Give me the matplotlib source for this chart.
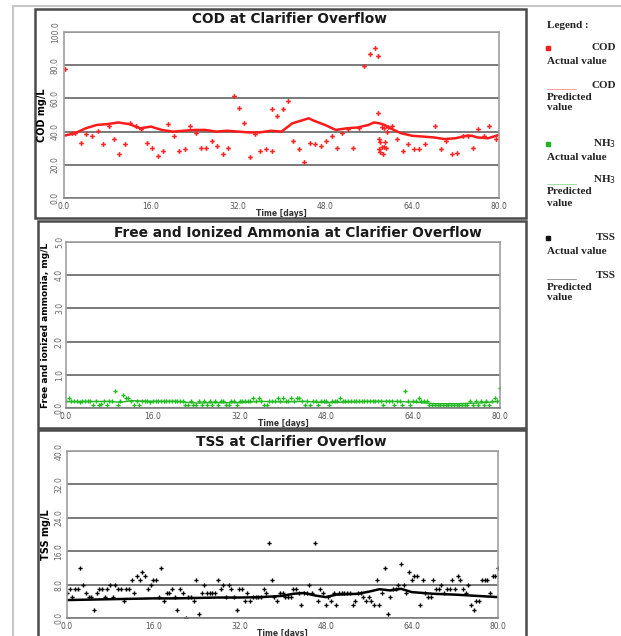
import matplotlib
matplotlib.use("Agg")
import matplotlib.pyplot as plt
from matplotlib.patches import Rectangle
import numpy as np

W, H = 621, 636

# ---- COD ----
cod_days = [0.1, 1.4, 2.0, 3.2, 4.1, 5.2, 6.2, 7.2, 8.2, 9.2,
            10.2, 11.2, 12.2, 13.2, 14.2, 15.2, 16.2, 17.2, 18.2, 19.2,
            20.2, 21.2, 22.2, 23.2, 24.2, 25.2, 26.2, 27.2, 28.2, 29.2,
            30.2, 31.2, 32.1, 33.1, 34.2, 35.2, 36.1, 37.2, 38.2, 38.2,
            39.2, 40.2, 41.2, 42.2, 43.2, 44.2, 45.2, 46.2, 47.2, 48.2,
            49.2, 50.2, 51.2, 52.2, 53.2, 54.2, 55.2, 56.2, 57.2, 57.8,
            57.8, 58.0, 58.0, 58.2, 58.2, 58.4, 58.5, 58.6, 58.8, 58.8,
            59.0, 59.2, 59.4, 59.6, 60.4, 61.3, 62.3, 63.3, 64.3, 65.3,
            66.3, 68.3, 69.3, 70.3, 71.3, 72.3, 73.3, 74.3, 75.3, 76.2,
            77.3, 78.2, 79.4]
cod_actual = [77.6, 39.4, 39.4, 33.4, 38.4, 37.4, 40.4, 32.4, 43.4, 35.4,
              26.4, 32.4, 45.4, 43.4, 41.4, 33.4, 30.4, 25.4, 28.4, 44.4,
              37.4, 28.4, 29.4, 43.4, 39.4, 30.4, 30.4, 34.4, 31.4, 26.4,
              30.4, 61.4, 54.4, 45.4, 24.4, 38.4, 28.4, 29.4, 53.4, 28.4,
              49.4, 53.4, 58.4, 34.4, 29.4, 21.4, 33.4, 32.4, 31.4, 34.4,
              37.4, 30.4, 39.4, 41.4, 30.4, 42.4, 79.6, 86.6, 90.6, 85.6,
              51.4, 35.3, 29.3, 33.9, 27.9, 30.9, 43.0, 26.5, 31.0, 42.0,
              34.0, 30.0, 40.0, 43.0, 43.4, 35.4, 28.4, 32.4, 29.4, 29.4,
              32.4, 43.4, 29.4, 34.4, 26.4, 27.4, 37.4, 37.4, 30.4, 41.4,
              37.4, 43.4, 35.4]
cod_pred_days = [0, 2, 4, 6, 8, 10, 12, 14, 16, 18, 20, 22, 24, 26, 28, 30,
                 32, 34, 36, 38, 40, 42, 44, 45, 46, 48, 50, 52, 54, 56, 57,
                 58, 59, 60, 62, 64, 66, 68, 70, 72, 74, 75, 76, 78, 80]
cod_pred = [37.5, 39.0, 42.0, 44.0, 44.5, 45.5, 44.5, 42.0, 43.0, 41.0,
            40.0, 40.5, 41.0, 41.0, 40.0, 40.5, 40.0, 39.5, 39.5, 40.5,
            40.0, 45.0, 47.0, 48.0, 46.5, 44.0, 41.0, 42.0, 42.5, 44.0,
            45.5, 45.0, 44.0, 42.0, 39.0, 37.5, 37.0, 36.5, 35.5, 36.0,
            37.5, 37.5, 36.5, 36.0, 38.0]

# ---- NH3 (one sample every half day) ----
nh3_actual = [0.2, 0.3, 0.2, 0.2, 0.2, 0.18, 0.2, 0.2, 0.2, 0.2,
              0.1, 0.2, 0.1, 0.12, 0.2, 0.1, 0.2, 0.2, 0.5, 0.1,
              0.2, 0.4, 0.3, 0.3, 0.2, 0.1, 0.2, 0.1, 0.2, 0.2,
              0.2, 0.18, 0.2, 0.2, 0.2, 0.2, 0.2, 0.2, 0.2, 0.2,
              0.2, 0.2, 0.2, 0.2, 0.1, 0.1, 0.2, 0.1, 0.1, 0.2,
              0.1, 0.2, 0.1, 0.2, 0.1, 0.2, 0.1, 0.2, 0.2, 0.1,
              0.1, 0.2, 0.2, 0.1, 0.2, 0.2, 0.2, 0.2, 0.2, 0.3,
              0.2, 0.3, 0.2, 0.1, 0.1, 0.2, 0.2, 0.2, 0.3, 0.2,
              0.3, 0.2, 0.2, 0.3, 0.2, 0.3, 0.3, 0.2, 0.1, 0.2,
              0.1, 0.2, 0.2, 0.1, 0.2, 0.2, 0.2, 0.1, 0.2, 0.2,
              0.2, 0.3, 0.2, 0.2, 0.2, 0.2, 0.2, 0.2, 0.2, 0.2,
              0.2, 0.2, 0.2, 0.2, 0.2, 0.2, 0.2, 0.1, 0.2, 0.2,
              0.2, 0.1, 0.2, 0.2, 0.1, 0.5, 0.2, 0.1, 0.2, 0.2,
              0.3, 0.2, 0.2, 0.2, 0.1, 0.1, 0.1, 0.1, 0.1, 0.1,
              0.1, 0.1, 0.1, 0.1, 0.1, 0.1, 0.1, 0.1, 0.1, 0.2,
              0.1, 0.2, 0.1, 0.2, 0.1, 0.2, 0.1, 0.2, 0.3, 0.2,
              0.6]
nh3_pred_days = [0, 8, 10, 12, 16, 20, 24, 28, 32, 36, 40, 44, 48, 52, 56,
                 60, 64, 68, 72, 76, 80]
nh3_pred = [0.19, 0.2, 0.17, 0.22, 0.2, 0.2, 0.15, 0.16, 0.16, 0.2, 0.18,
            0.2, 0.16, 0.18, 0.2, 0.2, 0.18, 0.13, 0.13, 0.15, 0.2]

# ---- TSS (one sample every half day) ----
tss_actual = [6, 7, 5, 7, 7, 12, 8, 6, 5, 5,
              2, 6, 7, 7, 5, 7, 8, 5, 8, 7,
              7, 4, 7, 7, 9, 6, 10, 9, 11, 10,
              7, 8, 9, 9, 5, 12, 4, 6, 6, 7,
              5, 2, 7, 6, 0, 5, 5, 4, 9, 1,
              6, 8, 6, 6, 6, 6, 9, 7, 8, 5,
              8, 7, 5, 2, 7, 7, 4, 6, 4, 5,
              5, 5, 5, 7, 6, 18, 9, 5, 4, 6,
              6, 5, 5, 5, 7, 7, 6, 3, 6, 6,
              8, 6, 18, 4, 7, 6, 3, 5, 4, 6,
              3, 6, 6, 6, 6, 6, 3, 4, 6, 6,
              5, 4, 5, 4, 3, 9, 3, 6, 12, 1,
              5, 7, 7, 8, 13, 8, 6, 11, 9, 10,
              10, 3, 9, 6, 5, 5, 9, 7, 7, 8,
              6, 7, 7, 9, 7, 10, 9, 7, 6, 8,
              3, 2, 4, 4, 9, 9, 9, 6, 10, 10,
              12]
tss_pred_days = [0, 4, 8, 12, 16, 20, 24, 28, 32, 36, 40, 42, 44, 46, 48,
                 50, 52, 54, 56, 58, 60, 62, 64, 68, 72, 76, 80]
tss_pred = [4.3, 4.4, 4.5, 4.6, 4.7, 4.7, 4.8, 4.9, 4.9, 5.0, 5.3, 5.8, 6.0,
            5.4, 5.0, 5.6, 5.7, 5.8, 6.3, 6.9, 6.6, 7.0, 6.2, 5.8, 5.6, 5.3,
            5.0]

x_ticks = [0, 16, 32, 48, 64, 80]


def fx(x):
    return x / W


def fy(y):
    return 1 - y / H


def add_panel(fig, box, ax_px, title, title_xy, ylabel, ylabel_x, ylabel_size,
              xlabel_y, yticks, ypad):
    # box = (x0, y0, x1, y1) in pixels from the top-left corner
    x0, y0, x1, y1 = box
    fig.patches.append(Rectangle((fx(x0), fy(y1)), fx(x1 - x0), (y1 - y0) / H,
                                 transform=fig.transFigure, fill=False,
                                 edgecolor="#4a4a4a", lw=1.8))
    l, t, r, b = ax_px
    ax = fig.add_axes([fx(l), fy(b), fx(r - l), (b - t) / H])
    ax.set_xlim(0, 80)
    ax.set_ylim(yticks[0], yticks[-1])
    ax.set_xticks(x_ticks)
    ax.set_xticklabels([f"{v:.1f}" for v in x_ticks], fontsize=5.5,
                       color="#555555")
    ax.set_yticks(yticks)
    ax.set_yticklabels([f"{v:.1f}" for v in yticks], fontsize=5.5,
                       color="#666666", rotation=90, va="center")
    ax.tick_params(axis="x", length=0, pad=3)
    ax.tick_params(axis="y", length=0, pad=ypad)
    ax.grid(axis="y", color="#707070", lw=1.3)
    ax.set_axisbelow(True)
    for s in ["left", "right", "top"]:
        ax.spines[s].set_color("#a0a0a0")
        ax.spines[s].set_linewidth(1.2)
    ax.spines["bottom"].set_color("#808080")
    ax.spines["bottom"].set_linewidth(1.2)
    fig.text(fx(title_xy[0]), fy(title_xy[1]), title, ha="center",
             va="center", fontsize=9.9, fontweight="bold",
             family="DejaVu Sans", color="#1a1a1a")
    fig.text(fx(ylabel_x), fy((t + b) / 2), ylabel, rotation=90, ha="center",
             va="center", fontsize=ylabel_size, fontweight="bold",
             family="Liberation Sans Narrow")
    fig.text(fx((l + r) / 2), fy(xlabel_y), "Time [days]", ha="center",
             va="center", fontsize=5.5, fontweight="bold", color="#333333")
    return ax


fig = plt.figure(figsize=(W / 100, H / 100), dpi=100)
fig.patch.set_facecolor("white")

# page edges
fig.add_artist(plt.Line2D([fx(13), fx(13)], [fy(7), 0], transform=fig.transFigure,
                          color="#c8c8c8", lw=1.5))
fig.add_artist(plt.Line2D([fx(13), 1], [fy(6), fy(6)], transform=fig.transFigure,
                          color="#c8c8c8", lw=1.5))

ax1 = add_panel(fig, (35, 9, 526, 218), (64, 32, 499, 198),
                "COD at Clarifier Overflow", (290, 19), "COD mg/L", 42, 7,
                213, [0, 20, 40, 60, 80, 100], 3)
ax1.plot(cod_pred_days, cod_pred, color="#ff1a1a", lw=1.8)
ax1.plot(cod_days, cod_actual, ls="none", marker="P", ms=3.4,
         color="#ff2020", mew=0)

ax2 = add_panel(fig, (38, 221, 526, 428), (66, 242, 500, 408),
                "Free and Ionized Ammonia at Clarifier Overflow", (298, 233),
                "Free and ionized ammonia, mg/L", 46, 6.5, 423,
                [0, 1, 2, 3, 4, 5], 1.5)
nh3_days = np.linspace(0, 80, len(nh3_actual))
ax2.plot(nh3_pred_days, nh3_pred, color="#22b422", lw=1.0)
ax2.plot(nh3_days, nh3_actual, ls="none", marker="P", ms=3.0,
         color="#22bb22", mew=0)

ax3 = add_panel(fig, (38, 430, 526, 640), (67, 451, 498, 618),
                "TSS at Clarifier Overflow", (291, 442), "TSS mg/L", 46, 7,
                633, [0, 8, 16, 24, 32, 40], 2.5)
tss_days = np.linspace(0, 80, len(tss_actual))
ax3.plot(tss_pred_days, tss_pred, color="black", lw=1.8)
ax3.plot(tss_days, tss_actual, ls="none", marker="P", ms=3.0,
         color="black", mew=0)

# legend column on the right
serif = dict(family="Liberation Serif", fontweight="bold", fontsize=8,
             color="#222222", va="center")
fig.text(fx(547), fy(25), "Legend :", ha="left", **serif)
entries = [
    ("#ff1a1a", "COD", 48, 87),
    ("#22b422", "NH$_3$", 144, 182),
    ("#111111", "TSS", 238, 277),
]
for color, name, y_act, y_pred in entries:
    fig.add_artist(plt.Line2D([fx(548)], [fy(y_act)], transform=fig.transFigure,
                              marker="s", ms=2.2, color=color, ls="none"))
    fig.text(fx(616), fy(y_act), name, ha="right", **serif)
    fig.text(fx(547), fy(y_act + 13), "Actual value", ha="left", **serif)
    fig.add_artist(plt.Line2D([fx(547), fx(576)], [fy(y_pred + 2), fy(y_pred + 2)],
                              transform=fig.transFigure, color=color, lw=0.5,
                              alpha=0.6))
    fig.text(fx(616), fy(y_pred - 2), name, ha="right", **serif)
    fig.text(fx(547), fy(y_pred + 10), "Predicted", ha="left", **serif)
    fig.text(fx(547), fy(y_pred + 21), "value", ha="left", **serif)

fig.savefig("out.png", dpi=100)
